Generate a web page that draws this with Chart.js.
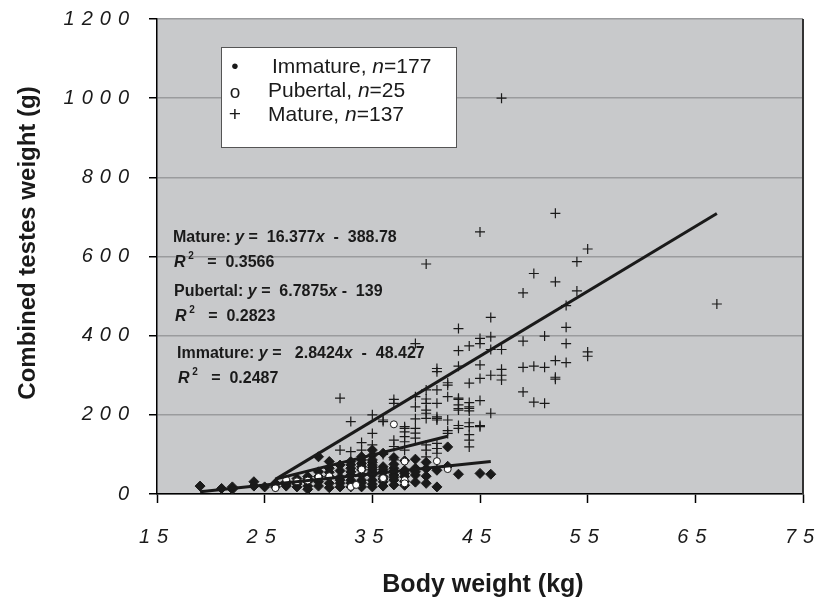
<!DOCTYPE html>
<html>
<head>
<meta charset="utf-8">
<script src="https://cdn.jsdelivr.net/npm/chart.js@4.4.0/dist/chart.umd.min.js"></script>
<style>
  html, body { margin: 0; padding: 0; background: #fff; }
  #wrap { width: 827px; height: 603px; }
</style>
</head>
<body>
<div id="wrap"><canvas id="chart" width="827" height="603"></canvas></div>
<script>
// --- Data (body weight kg, combined testes weight g) ---
const immatureData = [
  [19,20],[21,14],[22,18],[22,12],[24,31],[24,20],[25,18],[26,27],[26,18],
  [27,31],[27,20],[27,25],[28,39],[28,31],[28,18],[28,25],
  [29,44],[29,31],[29,20],[29,12],[29,38],[30,94],[30,44],[30,31],[30,20],[30,56],
  [31,82],[31,65],[31,44],[31,27],[31,16],[31,55],[32,73],[32,59],[32,42],[32,27],[32,18],[32,35],
  [33,82],[33,65],[33,48],[33,35],[33,18],[33,28],[33,74],[33,56],
  [34,94],[34,77],[34,61],[34,48],[34,35],[34,18],[34,28],[34,86],[34,69],
  [35,111],[35,98],[35,86],[35,73],[35,61],[35,48],[35,35],[35,18],[35,25],[35,55],[35,80],[35,67],
  [36,103],[36,69],[36,56],[36,44],[36,31],[36,20],[36,62],[36,38],
  [37,92],[37,65],[37,48],[37,35],[37,23],[37,58],[37,75],[37,42],
  [38,84],[38,60],[38,44],[38,32],[38,22],[38,52],[39,88],[39,65],[39,48],[39,30],[39,56],
  [40,80],[40,64],[40,27],[40,45],[41,18],[41,60],[42,119],[42,70],[43,50],[45,52],[46,50]
];
const pubertalData = [
  [26,15],[27,36],[28,32],[30,43],[33,18],[33.5,23],[34,62],[37,176],
  [38,82],[38,35],[38,27],[41,83],[42,63],[29,34],[31,45],[36,40]
];
const matureData = [
  [47,1000],[52,709],[45,662],[40,581],[55,619],[54,587],[50,557],[52,536],[49,508],[54,513],
  [53,476],[67,480],[46,446],[53,421],[43,418],[51,399],[49,386],[53,380],[55,359],[55,348],
  [39,380],[45,393],[45,380],[46,397],[46,365],[47,365],[44,374],[43,362],[43,323],[45,326],
  [49,320],[50,323],[51,320],[52,337],[53,332],[41,317],[41,309],[47,315],[47,300],[52,295],
  [42,281],[42,275],[44,280],[45,292],[46,300],[47,288],[40,263],[41,263],[39,246],[39,220],
  [40,229],[40,212],[43,239],[43,225],[43,212],[44,231],[44,220],[44,210],[45,236],[42,246],
  [41,229],[49,258],[50,232],[51,229],[52,290],[46,204],[37,239],[37,229],[36,183],[40,191],
  [41,191],[42,187],[43,173],[44,180],[45,173],[42,160],[44,150],[38,166],[39,166],[39,154],
  [32,242],[40,204],[41,195],[41,187],[35,200],[33,183],[36,187],[38,170],[38,157],[38,145],
  [35,153],[37,136],[38,132],[38,111],[39,141],[40,124],[40,111],[40,94],[41,128],[41,115],
  [41,103],[42,153],[43,166],[44,170],[44,136],[44,119],[45,170],[43,242],[43,216],[44,216],
  [32,111],[33,107],[34,111],[35,124],[37,86],[39,190],[40,240],[37,120],[36,100],[34,130]
];

// Linear fits: Immature, Pubertal, Mature
const fitNames = ['Immature', 'Pubertal', 'Mature'];
const fitSlopes = [2.8424, 6.7875, 16.377];
const fitIntercepts = [-48.427, -139, -388.78];
const fitR2 = [0.2487, 0.2823, 0.3566];
const fitFrom = [19, 26, 26];
const fitTo = [46, 42, 67];

const legendLabels = ['Immature, ', 'Pubertal, ', 'Mature, '];
const legendCounts = [177, 25, 137];
const legendSymbols = ['\u2022', 'o', '+'];

const xTicks = [15, 25, 35, 45, 55, 65, 75];
const yTicks = [0, 200, 400, 600, 800, 1000, 1200];

const FONT = "'Liberation Sans', Arial, sans-serif";
const INK = '#1a1a1a';

function toPoints(arr) {
  return arr.map(p => ({ x: p[0], y: p[1] }));
}

function fitLine(i) {
  return [fitFrom[i], fitTo[i]].map(x => ({ x: x, y: fitSlopes[i] * x + fitIntercepts[i] }));
}

// draw a run of text pieces, each {t, italic, sup}
function drawRich(ctx, x, y, size, parts) {
  let cx = x;
  parts.forEach(p => {
    const s = p.sup ? Math.round(size * 0.62) : size;
    ctx.font = (p.italic ? 'italic ' : '') + 'bold ' + s + 'px ' + FONT;
    ctx.fillText(p.t, cx, p.sup ? y - size * 0.42 : y);
    cx += ctx.measureText(p.t).width;
  });
}

const bgPlugin = {
  id: 'plotArea',
  beforeDraw(chart) {
    const { ctx, chartArea: a } = chart;
    ctx.save();
    ctx.fillStyle = '#c8c9cb';
    ctx.fillRect(a.left, a.top, a.right - a.left, a.bottom - a.top);
    ctx.restore();
    // spaced-out tick numerals
    ctx.letterSpacing = '7px';
  },
  beforeDatasetsDraw(chart) {
    const { ctx, chartArea: a } = chart;
    ctx.letterSpacing = '0px';
    ctx.save();
    ctx.strokeStyle = '#333';
    ctx.lineWidth = 2;
    ctx.beginPath();
    ctx.moveTo(a.right, a.top);
    ctx.lineTo(a.right, a.bottom);
    ctx.stroke();
    ctx.restore();
  },
  afterDraw(chart) {
    const { ctx } = chart;
    ctx.save();
    ctx.fillStyle = INK;
    ctx.textBaseline = 'middle';

    // axis titles
    ctx.font = 'bold 25px ' + FONT;
    ctx.textAlign = 'center';
    ctx.fillText('Body weight (kg)', 483, 585);
    ctx.font = 'bold 24px ' + FONT;
    ctx.save();
    ctx.translate(28, 243);
    ctx.rotate(-Math.PI / 2);
    ctx.fillText('Combined testes weight (g)', 0, 0);
    ctx.restore();

    // legend box
    ctx.fillStyle = '#fff';
    ctx.fillRect(221, 47, 235, 100);
    ctx.strokeStyle = '#555';
    ctx.lineWidth = 1;
    ctx.strokeRect(221.5, 47.5, 235, 100);
    ctx.fillStyle = INK;
    const rowY = [67, 91, 115];
    const textX = [272, 268, 268];
    legendLabels.forEach((lab, i) => {
      ctx.font = (i === 1 ? 19 : 21) + 'px ' + FONT;
      ctx.textAlign = 'center';
      ctx.fillText(legendSymbols[i], 235, rowY[i] + (i === 1 ? 2 : 0));
      ctx.font = '21px ' + FONT;
      ctx.textAlign = 'left';
      let cx = textX[i];
      ctx.fillText(lab, cx, rowY[i]);
      cx += ctx.measureText(lab).width;
      ctx.font = 'italic 21px ' + FONT;
      ctx.fillText('n', cx, rowY[i]);
      cx += ctx.measureText('n').width;
      ctx.font = '21px ' + FONT;
      ctx.fillText('=' + legendCounts[i], cx, rowY[i]);
    });

    // fit equations, mature first
    const eqRows = [
      { i: 2, x: 173, y: 238, gap: [' ', '  -  '] },
      { i: 1, x: 174, y: 292, gap: [' ', ' -  '] },
      { i: 0, x: 177, y: 354, gap: ['  ', '  -  '] }
    ];
    eqRows.forEach(r => {
      const i = r.i;
      drawRich(ctx, r.x, r.y, 16, [
        { t: fitNames[i] + ': ' },
        { t: 'y', italic: true },
        { t: ' =' + r.gap[0] + ' ' + fitSlopes[i] },
        { t: 'x', italic: true },
        { t: r.gap[1] + Math.abs(fitIntercepts[i]) }
      ]);
      drawRich(ctx, r.x + 1, r.y + 25, 16, [
        { t: 'R', italic: true },
        { t: ' 2', sup: true },
        { t: '   =  ' + fitR2[i] }
      ]);
    });
    ctx.restore();
  }
};

const ctx = document.getElementById('chart').getContext('2d');
const chart = new Chart(ctx, {
  type: 'scatter',
  data: {
    datasets: [
      ...[0, 1, 2].map(i => ({
        type: 'line',
        label: fitNames[i] + ' fit',
        data: fitLine(i),
        borderColor: INK,
        borderWidth: 3,
        pointRadius: 0,
        fill: false,
        order: 0
      })),
      {
        label: 'Pubertal',
        data: toPoints(pubertalData),
        pointStyle: 'circle',
        pointRadius: 3.5,
        backgroundColor: '#fff',
        borderColor: INK,
        borderWidth: 1,
        order: 1
      },
      {
        label: 'Immature',
        data: toPoints(immatureData),
        pointStyle: 'rectRot',
        pointRadius: 5,
        backgroundColor: INK,
        borderColor: INK,
        borderWidth: 1,
        order: 2
      },
      {
        label: 'Mature',
        data: toPoints(matureData),
        pointStyle: 'cross',
        pointRadius: 5,
        borderColor: INK,
        borderWidth: 1.2,
        order: 3
      }
    ]
  },
  options: {
    responsive: false,
    animation: false,
    devicePixelRatio: 1,
    layout: { padding: { top: 19, right: 24, left: 0, bottom: 0 } },
    plugins: { legend: { display: false }, tooltip: { enabled: false } },
    scales: {
      x: {
        type: 'linear',
        min: 15,
        max: 75,
        afterBuildTicks: s => { s.ticks = xTicks.map(v => ({ value: v })); },
        afterFit: s => { s.height = 109; s.paddingLeft = 0; s.paddingRight = 0; },
        grid: { drawOnChartArea: false, tickLength: 9, tickColor: '#000', tickWidth: 1.5 },
        border: { color: '#000', width: 1.5 },
        ticks: {
          padding: 22,
          color: INK,
          callback: v => String(v),
          font: { family: FONT, size: 20, style: 'italic' }
        }
      },
      y: {
        type: 'linear',
        min: 0,
        max: 1200,
        afterBuildTicks: s => { s.ticks = yTicks.map(v => ({ value: v })); },
        afterFit: s => { s.width = 157; s.paddingTop = 0; s.paddingBottom = 0; },
        grid: { color: '#9a9b9d', lineWidth: 1.5, tickLength: 8, tickColor: '#000', tickWidth: 1.5 },
        border: { color: '#000', width: 1.5 },
        ticks: {
          padding: 13,
          color: INK,
          callback: v => String(v),
          font: { family: FONT, size: 20, style: 'italic' }
        }
      }
    }
  },
  plugins: [bgPlugin]
});
</script>
</body>
</html>
